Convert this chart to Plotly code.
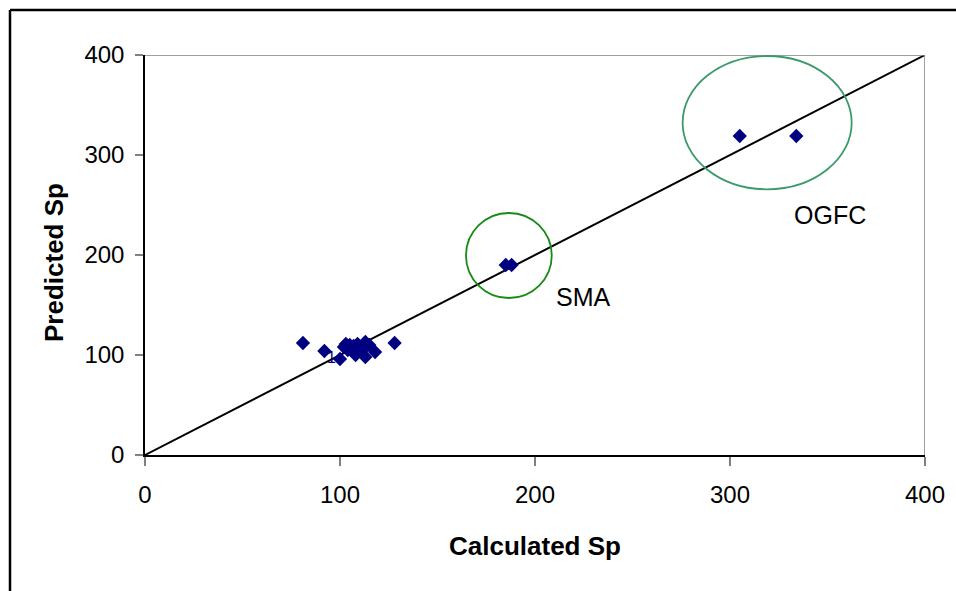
import plotly.graph_objects as go

# Data
calc_sp = [81, 92, 100, 102, 103, 105, 107, 108, 109, 110, 111, 112, 113, 113, 115, 118, 128, 104,
           185, 188, 305, 334]
pred_sp = [112, 104, 96, 108, 111, 110, 109, 100, 111, 108, 104, 110, 113, 98, 110, 103, 112, 105,
           190, 190, 319, 319]
line_x = [0, 400]
line_y = [0, 400]
tick_vals = [0, 100, 200, 300, 400]

# ellipse bounds in data units
sma_box = (164.6, 157, 208.6, 242)
ogfc_box = (275.7, 265.7, 362.4, 399)

fig = go.Figure()
fig.add_trace(go.Scatter(x=line_x, y=line_y, mode="lines",
                         line=dict(color="black", width=2), showlegend=False, hoverinfo="skip"))
fig.add_trace(go.Scatter(x=calc_sp, y=pred_sp, mode="markers",
                         marker=dict(symbol="diamond", size=11, color="#000080"),
                         showlegend=False))

shapes = []
# gray frame top/right
shapes.append(dict(type="line", xref="x", yref="y", x0=0, y0=400, x1=400, y1=400,
                   line=dict(color="#808080", width=1.5)))
shapes.append(dict(type="line", xref="x", yref="y", x0=400, y0=0, x1=400, y1=400,
                   line=dict(color="#808080", width=1.5)))
# ellipses
shapes.append(dict(type="circle", xref="x", yref="y", x0=sma_box[0], y0=sma_box[1],
                   x1=sma_box[2], y1=sma_box[3], line=dict(color="#178A17", width=1.8)))
shapes.append(dict(type="circle", xref="x", yref="y", x0=ogfc_box[0], y0=ogfc_box[1],
                   x1=ogfc_box[2], y1=ogfc_box[3], line=dict(color="#3A9A6A", width=1.8)))
# outer border (left and top)
bx = (10 - 145) / 780
by = (455 - 10) / 400
shapes.append(dict(type="line", xref="paper", yref="paper", x0=bx, y0=-0.5, x1=bx, y1=by,
                   line=dict(color="black", width=2.5)))
shapes.append(dict(type="line", xref="paper", yref="paper", x0=bx, y0=by, x1=1.2, y1=by,
                   line=dict(color="black", width=2.5)))

font_main = "Arial, Liberation Sans, sans-serif"
annotations = [
    dict(text="SMA", x=(583 - 145) / 1.95, y=455 - 297, xref="x", yref="y", showarrow=False,
         font=dict(family=font_main, size=25, color="black")),
    dict(text="OGFC", x=(830 - 145) / 1.95, y=455 - 215, xref="x", yref="y", showarrow=False,
         font=dict(family=font_main, size=25, color="black")),
    dict(text="1", x=(331 - 145) / 1.95, y=455 - 357, xref="x", yref="y", showarrow=False,
         font=dict(family=font_main, size=16, color="#000080")),
    dict(text="<b>Calculated Sp</b>", x=0.5, y=(455 - 546) / 400, xref="paper", yref="paper",
         xanchor="center", yanchor="middle",
         showarrow=False, font=dict(family=font_main, size=26, color="black")),
    dict(text="<b>Predicted Sp</b>", x=(54 - 145) / 780, y=(455 - 263) / 400, xref="paper",
         yref="paper", xanchor="center", yanchor="middle",
         showarrow=False, textangle=-90, font=dict(family=font_main, size=26, color="black")),
]

fig.update_layout(
    width=956, height=591,
    margin=dict(l=145, r=31, t=55, b=136),
    paper_bgcolor="white", plot_bgcolor="white",
    shapes=shapes, annotations=annotations,
    font=dict(family=font_main, size=24, color="black"),
)
fig.update_xaxes(range=[0, 400], tickvals=tick_vals, showgrid=False, zeroline=False,
                 showline=True, linecolor="black", linewidth=1.5,
                 ticks="outside", ticklen=9, tickcolor="#808080", tickwidth=1.5,
                 ticklabelstandoff=8)
fig.update_yaxes(range=[0, 400], tickvals=tick_vals, showgrid=False, zeroline=False,
                 showline=True, linecolor="black", linewidth=1.5,
                 ticks="outside", ticklen=8, tickcolor="#808080", tickwidth=1.5,
                 ticklabelstandoff=6)

fig.write_html("out.html")
